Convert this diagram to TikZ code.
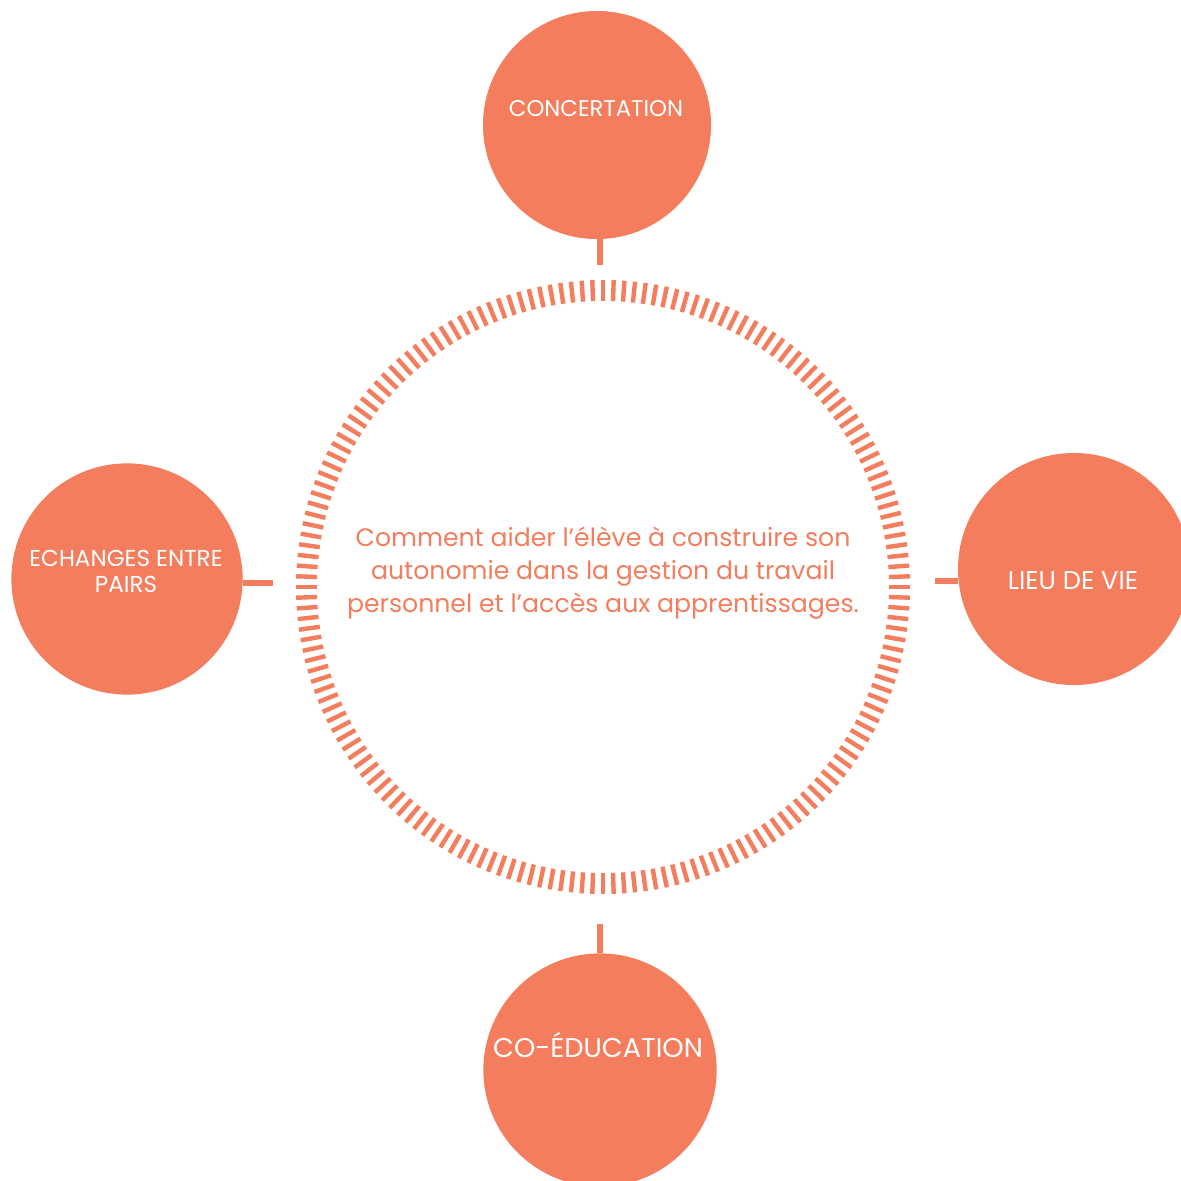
\documentclass[tikz,border=0pt]{standalone}
\usepackage{fontspec}
\setmainfont{Poppins}
\usepackage{tikz}
\usetikzlibrary{positioning}
\definecolor{coral}{RGB}{243,125,92}
\newcommand{\bubblecolor}{coral}
\newcommand{\ringcolor}{coral}

\begin{document}
\begin{tikzpicture}[
      % GLOBAL CFG
      x=0.025cm, y=-0.025cm,
      % Styles
      bubble/.style={% For the four themes
        circle,
        fill=\bubblecolor,
        inner sep=0pt
      },
      label/.style={% Text inside a theme
        text=white,
        align=center,
        inner sep=0pt
      },
      question/.style={% For the central text
        align=center,
        text=\ringcolor,
        font=\fontsize{17.9}{23.4}\selectfont
      },
      tick/.style={% Ticks of the ring
        draw=\ringcolor,
        line width=1.1mm
      },
      stub/.style={% Short links
        draw=\ringcolor,
        line width=1.3mm
      }
      ]
      \useasboundingbox (0,0) rectangle (1180,1181);

      % The ring and its question
      \coordinate (hub) at (603,587);
      \foreach \a in {0,2,...,358}
        \draw [tick] ([shift={(\a:286)}]hub) -- ([shift={(\a:307)}]hub);
      \node [question] (q) at (603,573) {Comment aider l’élève à construire son\\
        autonomie dans la gestion du travail\\
        personnel et l’accès aux apprentissages.};

      % The four themes
      \node [bubble, minimum size=5.7cm] (concert) at (597,125) {};
      \node [label, font=\fontsize{16.2}{19}\selectfont] (concerttxt) at (596,109) {CONCERTATION};
      \node [bubble, minimum size=5.78cm] (pairs) at (127,579) {};
      \node [label, font=\fontsize{16.4}{18.4}\selectfont] (pairstxt) at (126,571) {ECHANGES ENTRE\\PAIRS};
      \node [bubble, minimum size=5.8cm] (lieu) at (1074,569) {};
      \node [label, font=\fontsize{18.3}{20}\selectfont] (lieutxt) at (1073,581) {LIEU DE VIE};
      \node [bubble, minimum size=5.83cm] (coedu) at (600,1070) {};
      \node [label, font=\fontsize{19.3}{22}\selectfont] (coedutxt) at (598,1045) {CO-ÉDUCATION};

      % Links
      \coordinate (top) at (600,265);
      \coordinate (bottom) at (600,924);
      \coordinate (left) at (273,583);
      \coordinate (right) at (935,581);
      \draw [stub] (concert.south -| top) -- (top);
      \draw [stub] (coedu.north -| bottom) -- (bottom);
      \draw [stub] (pairs.east |- left) -- (left);
      \draw [stub] (lieu.west |- right) -- (right);

    \end{tikzpicture}
\end{document}
